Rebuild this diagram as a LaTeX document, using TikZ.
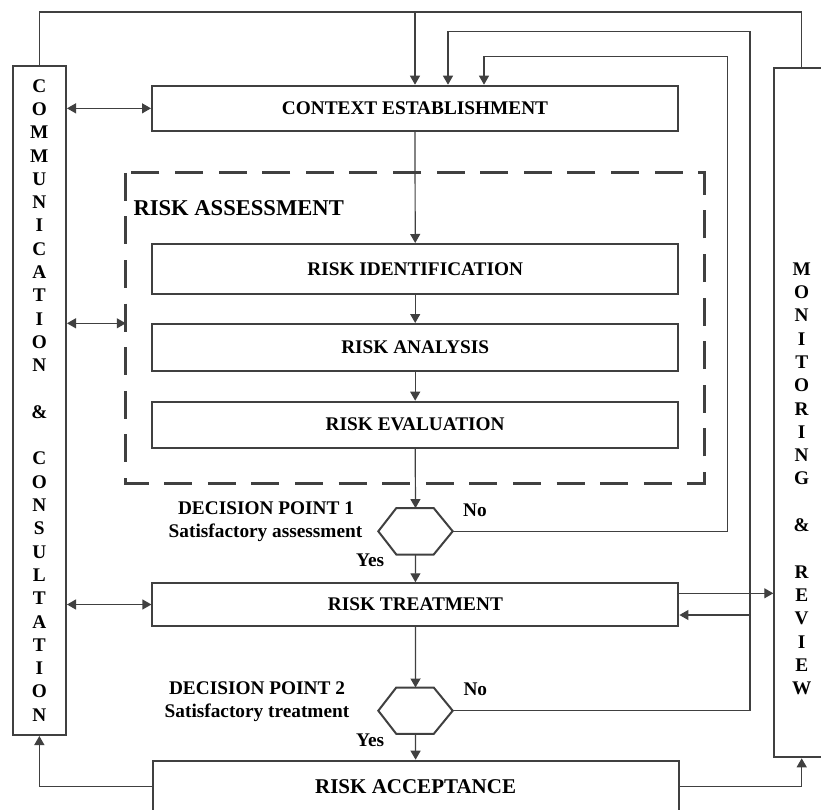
\documentclass[tikz,border=0pt]{standalone}
\usepackage{fontspec}
\setmainfont{Liberation Serif}
\usetikzlibrary{arrows.meta}
\definecolor{ink}{RGB}{64,64,64}

\begin{document}
\begin{tikzpicture}[x=1pt,y=-1pt,
  boxline/.style={draw=ink, line width=2pt},
  stage/.style={boxline, rectangle, inner sep=0pt, minimum width=526pt,
    font=\fontsize{19.3}{23}\selectfont\bfseries},
  conn/.style={draw=ink, line width=1.2pt},
  arr/.style={conn, -{Triangle[length=9pt,width=10pt]}},
  biarr/.style={conn, {Triangle[length=9pt,width=10pt]}-{Triangle[length=9pt,width=10pt]}},
  lbl/.style={inner sep=0pt, font=\fontsize{19.3}{23}\selectfont\bfseries},
  column/.style={rectangle, inner sep=0pt, align=center,
    font=\fontsize{19.3}{23.3}\selectfont\bfseries},
  dashbox/.style={draw=ink, line width=3pt, dash pattern=on 28pt off 15.6pt},
  decision/.style={rectangle, inner sep=0pt, minimum width=74pt, minimum height=46pt},
]
\useasboundingbox (0,0) rectangle (821,810);
\clip (0,0) rectangle (821,810);

% side columns
\node[column, boxline, minimum width=53.3pt, minimum height=669.3pt] (comm) at (39.35,400.35)
  {C\\O\\M\\M\\U\\N\\I\\C\\A\\T\\I\\O\\N\\\mbox{}\\\&\\\mbox{}\\C\\O\\N\\S\\U\\L\\T\\A\\T\\I\\O\\N};
\node[column, boxline, minimum width=54.8pt, minimum height=689.6pt] (monitor) at (801.7,412.5) {};
\node[column] (montext) at (801.7,478.8)
  {M\\O\\N\\I\\T\\O\\R\\I\\N\\G\\\mbox{}\\\&\\\mbox{}\\R\\E\\V\\I\\E\\W};

% main stages
\node[stage, minimum height=45.3pt] (ctx) at (415,108.35) {CONTEXT ESTABLISHMENT};

\node[rectangle, inner sep=0pt, minimum width=578pt, minimum height=310pt] (assess) at (415,328) {};
\draw[dashbox] (assess.north west) rectangle (assess.south east);
\node[inner sep=0pt, anchor=base west, font=\fontsize{22.6}{26}\selectfont\bfseries] (astitle)
  at (133.3,216) {RISK ASSESSMENT};

\node[stage, minimum height=50pt] (ident) at (415.2,269) {RISK IDENTIFICATION};
\node[stage, minimum height=47pt] (anal) at (415.2,347.5) {RISK ANALYSIS};
\node[stage, minimum height=46pt] (eval) at (415.2,424.7) {RISK EVALUATION};

\node[decision] (dec1) at (415.5,531.3) {};
\node[stage, minimum height=42.4pt] (treat) at (415.4,604.5) {RISK TREATMENT};
\node[decision] (dec2) at (415.5,710.7) {};
\node[stage, minimum height=52pt, font=\fontsize{21}{25}\selectfont\bfseries] (accept) at (415.6,786.7) {RISK ACCEPTANCE};

% hexagonal decision points
\foreach \d in {dec1,dec2}{
  \draw[boxline, line join=miter] (\d.west) -- ([xshift=18pt]\d.north west) -- ([xshift=-19pt]\d.north east)
    -- (\d.east) -- ([xshift=-19pt]\d.south east) -- ([xshift=18pt]\d.south west) -- cycle;
}

% decision labels
\node[lbl, anchor=base] (dp1) at (266,514.3) {DECISION POINT 1};
\node[lbl, anchor=base] (sa1) at (265.5,537.3) {Satisfactory assessment};
\node[lbl, anchor=base west] (no1) at (463,516.7) {No};
\node[lbl, anchor=base west] (yes1) at (356,566.7) {Yes};
\node[lbl, anchor=base] (dp2) at (257,694.3) {DECISION POINT 2};
\node[lbl, anchor=base] (sa2) at (257,717.7) {Satisfactory treatment};
\node[lbl, anchor=base west] (no2) at (463.3,695) {No};
\node[lbl, anchor=base west] (yes2) at (356,746) {Yes};

% main flow
\draw[arr] (ctx.south) -- (ident.north);
\draw[arr] (ident.south) -- (anal.north);
\draw[arr] (anal.south) -- (eval.north);
\draw[arr] (eval.south) -- (dec1.north);
\draw[arr] (dec1.south) -- (treat.north);
\draw[arr] (treat.south) -- (dec2.north);
\draw[arr] (dec2.south) -- (accept.north);

% feedback loops
\coordinate (topY) at (0,12);
\coordinate (loopB) at (750,31.7);
\coordinate (loopC) at (727.7,56.7);
\draw[conn] (comm.north) |- (topY -| monitor.north) -- (monitor.north);
\draw[arr] (ctx.north |- topY) -- (ctx.north);
\draw[arr] (dec2.east) -| (loopB) -| ([xshift=33pt]ctx.north);
\draw[arr] (dec1.east) -| (loopC) -| ([xshift=69pt]ctx.north);

% treatment to and from monitoring
\coordinate (tout) at ([yshift=11.2pt]treat.east);
\coordinate (tin) at ([yshift=-10.5pt]treat.east);
\draw[arr] (tout) -- (tout -| monitor.west);
\draw[arr] (tin -| loopB) -- (tin);

% communication links
\coordinate (aw) at ([yshift=4.7pt]assess.west);
\draw[biarr] (ctx.west) -- (ctx.west -| comm.east);
\draw[biarr] (aw) -- (aw -| comm.east);
\draw[biarr] (treat.west) -- (treat.west -| comm.east);

% acceptance outputs
\draw[arr] (accept.west) -| (comm.south);
\draw[arr] (accept.east) -| (monitor.south);
\end{tikzpicture}
\end{document}
